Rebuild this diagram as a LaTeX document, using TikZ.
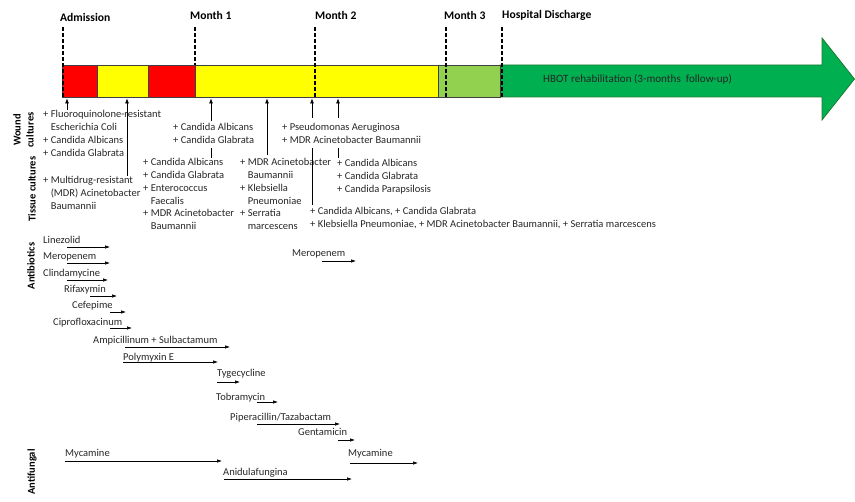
\documentclass[tikz,border=0pt]{standalone}
\usepackage{fontspec}
\setmainfont{Carlito}
\usetikzlibrary{arrows.meta}
\definecolor{cred}{HTML}{FF0000}
\definecolor{cyel}{HTML}{FFFF00}
\definecolor{clgreen}{HTML}{92D050}
\definecolor{cdgreen}{HTML}{00B050}
\definecolor{cgborder}{HTML}{1F7A35}
\definecolor{ctext}{HTML}{262626}
\begin{document}
\begin{tikzpicture}[x=1pt,y=-1pt,
  txt/.style={font=\fontsize{10.5}{12.7}\selectfont, text=ctext, inner sep=0, anchor=north west, align=left},
  lbl/.style={font=\fontsize{10.5}{12.7}\selectfont, text=ctext, inner sep=0, anchor=base west},
  hdr/.style={font=\fontsize{11.6}{13}\selectfont\bfseries, inner sep=0, anchor=west},
  side/.style={font=\fontsize{10.5}{13}\selectfont\bfseries, rotate=90, inner sep=0, align=center},
  seg/.style={draw=black!75, line width=0.5pt},
  mark line/.style={dash pattern=on 4pt off 2pt, line width=1.1pt},
  ab/.style={-{Latex[length=5pt,width=3.5pt]}, line width=0.6pt},
  up/.style={-{Latex[length=5pt,width=4pt]}, line width=0.6pt},
  conn/.style={line width=0.6pt}]
\useasboundingbox (0,0) rectangle (855,502);

% timeline bar
\fill[cdgreen, draw=cgborder, line width=0.8pt] (500,65) -- (822,65) -- (822,38) -- (854.5,79) -- (822,120) -- (822,97) -- (500,97) -- cycle;
\path[seg, fill=cred] (62,65) rectangle (97,97);
\path[seg, fill=cyel] (97,65) rectangle (148,97);
\path[seg, fill=cred] (148,65) rectangle (195,97);
\path[seg, fill=cyel] (195,65) rectangle (438,97);
\path[seg, fill=clgreen] (438,65) rectangle (500,97);
\node[font=\fontsize{11.1}{13}\selectfont, text=ctext, anchor=west, inner sep=0] (hbot) at (543,79) {HBOT rehabilitation (3-months\ \ follow-up)};

% time marks
\node[hdr] (adm) at (60,17) {Admission};
\node[hdr] (m1) at (190,15.5) {Month 1};
\node[hdr] (m2) at (315,15.5) {Month 2};
\node[hdr] (m3) at (444,15.5) {Month 3};
\node[hdr] (dis) at (502,15.5) {Hospital Discharge};
\coordinate (adm-t) at (63,27); \coordinate (adm-b) at (63,97);
\coordinate (m1-t) at (195,27); \coordinate (m1-b) at (195,65);
\coordinate (m2-t) at (315,27); \coordinate (m2-b) at (315,97);
\coordinate (m3-t) at (446,27); \coordinate (m3-b) at (446,97);
\coordinate (dis-t) at (502,27); \coordinate (dis-b) at (502,97);
\foreach \m in {adm,m1,m2,m3,dis} \draw[mark line] (\m-t) -- (\m-b);

% side labels
\node[side] (wound) at (23.5,130) {Wound\\cultures};
\node[side] (tissue) at (32,189) {Tissue cultures};
\node[side] (antib) at (31,266) {Antibiotics};
\node[side] (antif) at (32,472) {Antifungal};

% culture blocks
\node[txt] (w1) at (43,110.5) {+ Fluoroquinolone-resistant\\\phantom{+ }Escherichia Coli\\+ Candida Albicans\\+ Candida Glabrata};
\node[txt] (t1) at (43,176.5) {+ Multidrug-resistant\\\phantom{+ }(MDR) Acinetobacter\\\phantom{+ }Baumannii};
\node[txt] (w2) at (173,123.5) {+ Candida Albicans\\+ Candida Glabrata};
\node[txt] (t2) at (143,158.5) {+ Candida Albicans\\+ Candida Glabrata\\+ Enterococcus\\\phantom{+ }Faecalis\\+ MDR Acinetobacter\\\phantom{+ }Baumannii};
\node[txt] (t3) at (240,158.5) {+ MDR Acinetobacter\\\phantom{+ }Baumannii\\+ Klebsiella\\\phantom{+ }Pneumoniae\\+ Serratia\\\phantom{+ }marcescens};
\node[txt] (w3) at (282,123.5) {+ Pseudomonas Aeruginosa\\+ MDR Acinetobacter Baumannii};
\node[txt] (t4) at (337,159.5) {+ Candida Albicans\\+ Candida Glabrata\\+ Candida Parapsilosis};
\node[txt] (t5) at (310,207.5) {+ Candida Albicans, + Candida Glabrata\\+ Klebsiella Pneumoniae, + MDR Acinetobacter Baumannii, + Serratia marcescens};

% sample arrows to bar
\coordinate (a1s) at (67,110); \coordinate (a1e) at (67,98.5);
\coordinate (a2s) at (127,176); \coordinate (a2e) at (127,98.5);
\coordinate (a3s) at (211,121); \coordinate (a3e) at (211,98.5);
\coordinate (a4s) at (267,155); \coordinate (a4e) at (267,98.5);
\coordinate (a5s) at (312,118); \coordinate (a5e) at (312,98.5);
\coordinate (a6s) at (338,118); \coordinate (a6e) at (338,98.5);
\foreach \a in {a1,a2,a3,a4,a5,a6} \draw[up] (\a s) -- (\a e);
\coordinate (l3s) at (211,148); \coordinate (l3e) at (211,158);
\coordinate (l5s) at (312,148); \coordinate (l5e) at (312,205);
\coordinate (l6s) at (338,148); \coordinate (l6e) at (338,158);
\foreach \l in {l3,l5,l6} \draw[conn] (\l s) -- (\l e);

% antibiotics
\node[lbl] (lin) at (43,243.5) {Linezolid};
\node[lbl] (mer) at (43,259.5) {Meropenem};
\node[lbl] (cli) at (43,276.5) {Clindamycine};
\node[lbl] (rif) at (64,292.5) {Rifaxymin};
\node[lbl] (cef) at (72,308.5) {Cefepime};
\node[lbl] (cip) at (53,325.5) {Ciprofloxacinum};
\node[lbl] (amp) at (93,343.5) {Ampicillinum + Sulbactamum};
\node[lbl] (pol) at (123,360.5) {Polymyxin E};
\node[lbl] (tyg) at (217,376.5) {Tygecycline};
\node[lbl] (tob) at (216,400.5) {Tobramycin};
\node[lbl] (pip) at (230,420.5) {Piperacillin/Tazabactam};
\node[lbl] (gen) at (298,435.5) {Gentamicin};
\node[lbl] (merb) at (292,256.5) {Meropenem};
\coordinate (lin-s) at (67,247); \coordinate (lin-e) at (110,247);
\coordinate (mer-s) at (67,263); \coordinate (mer-e) at (110,263);
\coordinate (cli-s) at (67,280); \coordinate (cli-e) at (108,280);
\coordinate (rif-s) at (90,296); \coordinate (rif-e) at (117,296);
\coordinate (cef-s) at (110,312); \coordinate (cef-e) at (126,312);
\coordinate (cip-s) at (110,328); \coordinate (cip-e) at (132,328);
\coordinate (amp-s) at (125,347); \coordinate (amp-e) at (230,347);
\coordinate (pol-s) at (123,362); \coordinate (pol-e) at (218,362);
\coordinate (tyg-s) at (217,382); \coordinate (tyg-e) at (240,382);
\coordinate (tob-s) at (257,402); \coordinate (tob-e) at (278,402);
\coordinate (pip-s) at (257,424); \coordinate (pip-e) at (340,424);
\coordinate (gen-s) at (338,440); \coordinate (gen-e) at (355,440);
\coordinate (merb-s) at (322,261); \coordinate (merb-e) at (356,261);
\foreach \d in {lin,mer,cli,rif,cef,cip,amp,pol,tyg,tob,pip,gen,merb} \draw[ab] (\d-s) -- (\d-e);

% antifungal
\node[lbl] (myc1) at (65,456.5) {Mycamine};
\node[lbl] (ani) at (223,475.5) {Anidulafungina};
\node[lbl] (myc2) at (348,456.5) {Mycamine};
\coordinate (myc1-s) at (65,461); \coordinate (myc1-e) at (222,461);
\coordinate (ani-s) at (224,479); \coordinate (ani-e) at (352,479);
\coordinate (myc2-s) at (350,463); \coordinate (myc2-e) at (418,463);
\foreach \d in {myc1,ani,myc2} \draw[ab] (\d-s) -- (\d-e);
\end{tikzpicture}
\end{document}
